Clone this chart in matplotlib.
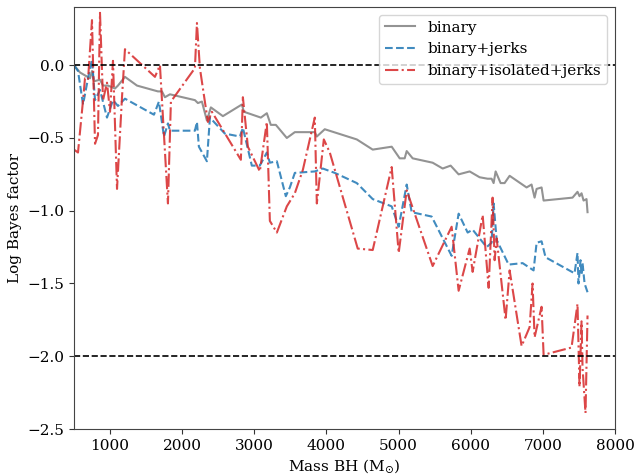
import matplotlib
matplotlib.use("Agg")
import matplotlib.pyplot as plt

plt.rcParams['font.family'] = ['DejaVu Serif']

binary_mass = [500, 583, 652, 722, 749, 777, 860, 902, 971, 1068, 1109, 1206, 1373, 1663, 1719, 1760, 1830,
               2176, 2217, 2273, 2342, 2397, 2564, 2827, 2855, 3090, 3173, 3228, 3298, 3450, 3561, 3838, 3866,
               3976, 4420, 4641, 4904, 5015, 5084, 5112, 5195, 5472, 5611, 5721, 5832, 5985, 6123, 6234, 6289,
               6317, 6345, 6414, 6469, 6539, 6774, 6843, 6885, 6913, 6982, 7010, 7411, 7480, 7508, 7536, 7564,
               7605, 7619]
binary_lbf = [0.00, -0.05, -0.07, -0.09, -0.04, -0.11, -0.10, -0.14, -0.14, -0.16, -0.14, -0.08, -0.14, -0.18,
              -0.18, -0.22, -0.20, -0.24, -0.26, -0.25, -0.38, -0.29, -0.35, -0.27, -0.32, -0.36, -0.33, -0.41,
              -0.41, -0.50, -0.46, -0.46, -0.49, -0.44, -0.51, -0.58, -0.56, -0.64, -0.64, -0.59, -0.64, -0.67,
              -0.71, -0.69, -0.75, -0.73, -0.77, -0.78, -0.78, -0.81, -0.73, -0.81, -0.81, -0.76, -0.84, -0.82,
              -0.91, -0.85, -0.84, -0.93, -0.91, -0.87, -0.90, -0.88, -0.93, -0.92, -1.01]

jerks_mass = [500, 555, 625, 694, 749, 791, 860, 957, 1040, 1109, 1206, 1608, 1677, 1747, 1802, 1830, 2176,
              2204, 2231, 2342, 2384, 2591, 2799, 2841, 2965, 3076, 3173, 3215, 3312, 3436, 3492, 3561, 3838,
              3949, 4115, 4420, 4641, 4904, 5001, 5112, 5181, 5458, 5735, 5832, 5957, 6026, 6220, 6289, 6317,
              6359, 6525, 6719, 6871, 6913, 6982, 7037, 7439, 7480, 7494, 7522, 7536, 7550, 7578, 7619]
jerks_lbf = [0.00, -0.04, -0.27, -0.09, 0.04, -0.24, -0.17, -0.36, -0.24, -0.28, -0.23, -0.34, -0.25, -0.49,
             -0.40, -0.45, -0.45, -0.39, -0.56, -0.66, -0.36, -0.47, -0.49, -0.43, -0.69, -0.69, -0.60, -0.67,
             -0.66, -0.90, -0.84, -0.74, -0.73, -0.71, -0.74, -0.81, -0.92, -0.97, -1.11, -0.82, -1.01, -1.04,
             -1.31, -1.02, -1.15, -1.13, -1.25, -1.22, -0.95, -1.20, -1.37, -1.36, -1.41, -1.22, -1.21, -1.32,
             -1.43, -1.29, -1.50, -1.34, -1.44, -1.36, -1.50, -1.56]

iso_mass = [500, 555, 625, 652, 694, 749, 791, 832, 860, 902, 957, 999, 1040, 1096, 1165, 1206, 1622, 1691,
            1802, 1843, 2176, 2204, 2245, 2356, 2411, 2813, 2841, 2910, 3076, 3173, 3215, 3312, 3450, 3561,
            3672, 3838, 3866, 3963, 4046, 4433, 4641, 4904, 5001, 5112, 5472, 5735, 5832, 5985, 6026, 6165,
            6248, 6303, 6331, 6359, 6483, 6539, 6705, 6816, 6857, 6885, 6982, 7010, 7397, 7480, 7508, 7536,
            7550, 7591, 7619]
iso_lbf = [-0.58, -0.60, -0.24, -0.09, -0.10, 0.31, -0.54, -0.48, 0.36, -0.24, -0.12, -0.32, 0.03, -0.85,
           -0.22, 0.11, -0.08, 0.00, -0.95, -0.25, -0.02, 0.29, -0.02, -0.39, -0.32, -0.65, -0.22, -0.56, -0.73,
           -0.39, -1.07, -1.15, -0.97, -0.88, -0.72, -0.36, -0.95, -0.51, -0.60, -1.26, -1.27, -0.70, -1.29,
           -0.86, -1.38, -1.11, -1.55, -1.26, -1.42, -1.03, -1.53, -0.91, -1.34, -1.19, -1.75, -1.41, -1.93,
           -1.80, -1.50, -1.87, -1.66, -1.99, -1.94, -1.64, -2.21, -1.76, -2.08, -2.39, -1.72]

ref_levels = [0.0, -2.0]
x_ticks = [1000, 2000, 3000, 4000, 5000, 6000, 7000, 8000]
y_ticks = [0.0, -0.5, -1.0, -1.5, -2.0, -2.5]

fig = plt.figure(figsize=(6.36, 4.76), dpi=100)
ax = fig.add_axes([0.1164, 0.0987, 0.8506, 0.8866])

ax.plot(binary_mass, binary_lbf, color='gray', alpha=0.85, lw=1.5, ls='-', label='binary')
ax.plot(jerks_mass, jerks_lbf, color='tab:blue', alpha=0.85, lw=1.5, ls='--', label='binary+jerks')
ax.plot(iso_mass, iso_lbf, color='tab:red', alpha=0.85, lw=1.5, ls='-.', label='binary+isolated+jerks')
for lvl in ref_levels:
    ax.axhline(lvl, color='black', ls='--', lw=1.2)

ax.set_xlim(500, 8000)
ax.set_ylim(-2.5, 0.4)
ax.set_xticks(x_ticks)
ax.set_yticks(y_ticks)
ax.tick_params(labelsize=11, color='#333333')
for s in ax.spines.values():
    s.set_color('#444444')
ax.set_xlabel('Mass BH (M$_{\\odot}$)', fontsize=11, labelpad=3)
ax.set_ylabel('Log Bayes factor', fontsize=11)
ax.legend(loc='upper right', fontsize=11)

fig.savefig('out.png', dpi=100)
